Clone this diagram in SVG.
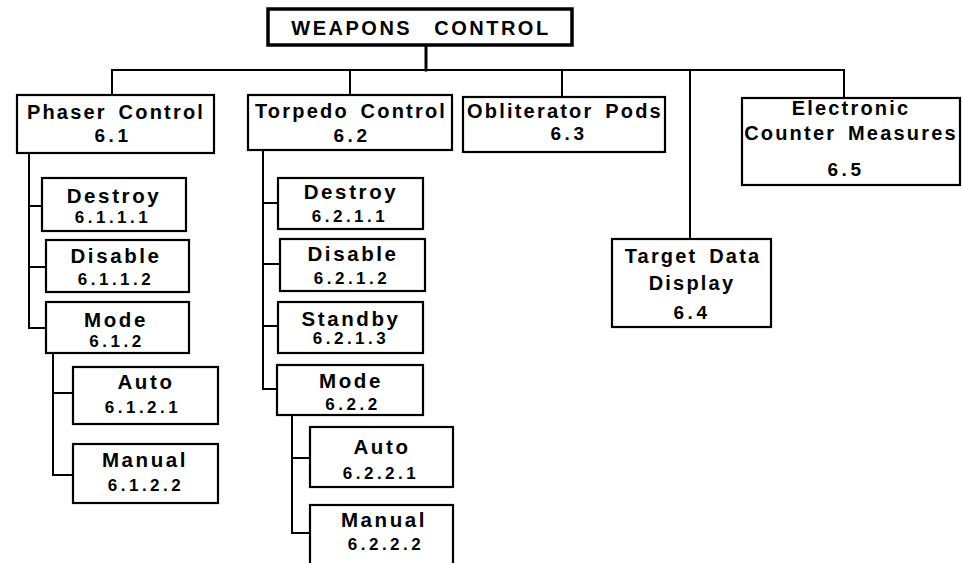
<svg xmlns="http://www.w3.org/2000/svg" width="962" height="563" viewBox="0 0 962 563">
<style>
.box{fill:#fff;stroke:#000;stroke-width:2.2}
.title{fill:#fff;stroke:#000;stroke-width:3.5}
.ln{fill:none;stroke:#000;stroke-width:2;stroke-linecap:square}
text{font-family:"Liberation Sans",Arial,Helvetica,sans-serif;font-weight:bold;fill:#000;text-anchor:middle}
.t{font-size:20px;letter-spacing:2.2px;word-spacing:4px}
.c{font-size:20.5px;letter-spacing:2.6px}
.n{font-size:19px;letter-spacing:3.6px}
.m{font-size:17px;letter-spacing:3.5px}
.h{font-size:20px;letter-spacing:2.5px;word-spacing:14px}
</style>
<rect width="962" height="563" fill="#fff"/>
<g id="connectors">
<path class="ln" d="M426,45 V70" style="stroke-width:3"/>
<path class="ln" d="M112,70 H844"/>
<path class="ln" d="M112,70 V95 M350,70 V95 M562,70 V97 M690,70 V239 M844,70 V98"/>
<path class="ln" d="M29,155 V328 M29,206 H42 M29,267 H46 M29,328 H46"/>
<path class="ln" d="M53,353 V475 M53,393 H73 M53,475 H73"/>
<path class="ln" d="M263,150 V389 M263,203 H278 M263,264 H280 M263,326 H278 M263,389 H277"/>
<path class="ln" d="M292,415 V533 M292,458 H310 M292,533 H310"/>
</g>
<g id="weapons-control">
<rect class="title" x="268" y="9" width="304" height="36"/>
<text class="h" x="421" y="35">WEAPONS CONTROL</text>
</g>
<g id="phaser-control">
<rect class="box" x="17" y="95" width="197" height="58"/>
<text class="t" x="116" y="119">Phaser Control</text>
<text class="n" x="113" y="142">6.1</text>
</g>
<g id="torpedo-control">
<rect class="box" x="248" y="95" width="204" height="55"/>
<text class="t" x="351" y="118">Torpedo Control</text>
<text class="n" x="352" y="142">6.2</text>
</g>
<g id="obliterator-pods">
<rect class="box" x="463" y="97" width="202" height="55"/>
<text class="t" x="565" y="118">Obliterator Pods</text>
<text class="n" x="569" y="140">6.3</text>
</g>
<g id="target-data-display">
<rect class="box" x="612" y="239" width="159" height="88"/>
<text class="t" x="693" y="263">Target Data</text>
<text class="t" x="692" y="290">Display</text>
<text class="n" x="692" y="319">6.4</text>
</g>
<g id="ecm">
<rect class="box" x="742" y="98" width="218" height="87"/>
<text class="t" x="851" y="115">Electronic</text>
<text class="t" x="851" y="140">Counter Measures</text>
<text class="n" x="846" y="176">6.5</text>
</g>
<g id="phaser-destroy">
<rect class="box" x="42" y="178" width="144" height="53"/>
<text class="c" x="114" y="203">Destroy</text>
<text class="m" x="113" y="223">6.1.1.1</text>
</g>
<g id="phaser-disable">
<rect class="box" x="46" y="240" width="143" height="52"/>
<text class="c" x="116" y="263">Disable</text>
<text class="m" x="116" y="285">6.1.1.2</text>
</g>
<g id="phaser-mode">
<rect class="box" x="46" y="302" width="143" height="51"/>
<text class="c" x="116" y="327">Mode</text>
<text class="m" x="117" y="347">6.1.2</text>
</g>
<g id="phaser-auto">
<rect class="box" x="73" y="367" width="145" height="57"/>
<text class="c" x="146" y="389">Auto</text>
<text class="m" x="143" y="413">6.1.2.1</text>
</g>
<g id="phaser-manual">
<rect class="box" x="73" y="444" width="145" height="59"/>
<text class="c" x="145" y="467">Manual</text>
<text class="m" x="146" y="491">6.1.2.2</text>
</g>
<g id="torpedo-destroy">
<rect class="box" x="278" y="178" width="145" height="51"/>
<text class="c" x="351" y="199">Destroy</text>
<text class="m" x="350" y="222">6.2.1.1</text>
</g>
<g id="torpedo-disable">
<rect class="box" x="280" y="239" width="145" height="52"/>
<text class="c" x="353" y="261">Disable</text>
<text class="m" x="352" y="284">6.2.1.2</text>
</g>
<g id="torpedo-standby">
<rect class="box" x="278" y="302" width="145" height="51"/>
<text class="c" x="351" y="326">Standby</text>
<text class="m" x="351" y="344">6.2.1.3</text>
</g>
<g id="torpedo-mode">
<rect class="box" x="277" y="365" width="146" height="50"/>
<text class="c" x="351" y="388">Mode</text>
<text class="m" x="353" y="410">6.2.2</text>
</g>
<g id="torpedo-auto">
<rect class="box" x="310" y="427" width="143" height="60"/>
<text class="c" x="382" y="454">Auto</text>
<text class="m" x="381" y="479">6.2.2.1</text>
</g>
<g id="torpedo-manual">
<rect class="box" x="310" y="505" width="143" height="70"/>
<text class="c" x="384" y="527">Manual</text>
<text class="m" x="386" y="550">6.2.2.2</text>
</g>
</svg>
